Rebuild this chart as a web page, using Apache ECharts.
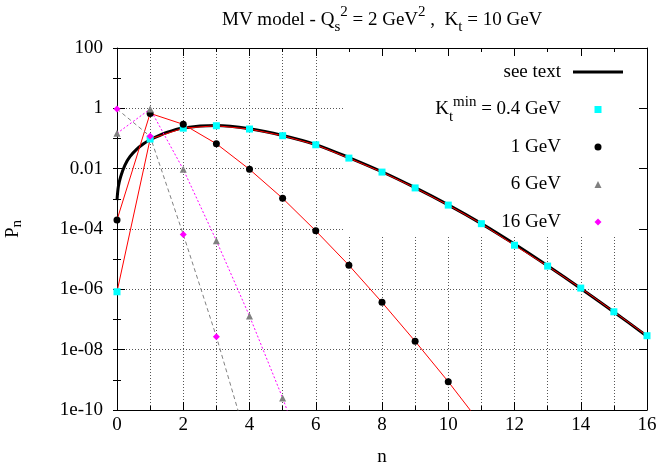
<!DOCTYPE html>
<html>
<head>
<meta charset="utf-8">
<script src="https://cdn.jsdelivr.net/npm/echarts@6/dist/echarts.min.js"></script>
<style>
  html, body { margin: 0; padding: 0; background: #fff; }
  #chart { width: 658px; height: 468px; }
</style>
</head>
<body>
<div id="chart"></div>
<script>
// Multiplicity distribution P_n in the MV model
const nValues = [0, 1, 2, 3, 4, 5, 6, 7, 8, 9, 10, 11, 12, 13, 14, 15, 16];

// Kt_min = 0.4 GeV
const pKt04 = [8.3e-7, 0.096, 0.22, 0.265, 0.206, 0.124, 0.062, 0.0224, 0.0077,
               0.0023, 6.2e-4, 1.5e-4, 2.9e-5, 5.9e-6, 1.1e-6, 1.8e-7, 2.9e-8];
// Kt_min = 1 GeV
const pKt1 = [2.0e-4, 0.68, 0.295, 0.067, 0.0095, 1.04e-3, 8.7e-5, 6.3e-6, 3.7e-7,
              1.9e-8, 8.7e-10, 3.3e-11];
// Kt_min = 6 GeV
const pKt6 = [0.148, 0.95, 0.0095, 4.1e-5, 1.3e-7, 2.5e-10, 2.5e-13];
// Kt_min = 16 GeV
const pKt16 = [0.95, 0.118, 6.6e-5, 2.7e-8, 4.9e-12];

// continuous curve ("see text")
const curveN = [0, 0.04, 0.11, 0.24, 0.39, 0.59, 0.79, 1, 1.5, 2, 3, 4, 5, 6, 7, 8,
                9, 10, 11, 12, 13, 14, 15, 16];
const curveP = [9.1e-4, 2.5e-3, 5.4e-3, 0.0132, 0.025, 0.0437, 0.066, 0.091, 0.158,
                0.224, 0.269, 0.209, 0.126, 0.063, 0.0234, 0.0079, 0.00234, 6.3e-4,
                1.51e-4, 3.16e-5, 6.0e-6, 1.07e-6, 1.78e-7, 2.8e-8];

const xTickLabels = ['0', '2', '4', '6', '8', '10', '12', '14', '16'];
const yTickLabels = { '2': '100', '0': '1', '-2': '0.01', '-4': '1e-04',
                      '-6': '1e-06', '-8': '1e-08', '-10': '1e-10' };

const NAME_04 = 'Kt_min = 0.4 GeV';
const FONT = 'Liberation Serif';
const FS = 19;

// rich styles with sub/superscripts (line box 30px)
const richText = {
  b:   { fontFamily: FONT, fontSize: FS, lineHeight: 30, color: '#000' },
  e:   { fontFamily: FONT, fontSize: FS, lineHeight: 30, color: '#000', padding: [0, 7, 0, 0] },
  sub: { fontFamily: FONT, fontSize: 15, lineHeight: 21, verticalAlign: 'bottom', color: '#000' },
  sup: { fontFamily: FONT, fontSize: 15, lineHeight: 9, verticalAlign: 'top', color: '#000' }
};
// axis name style (line box 24px)
const richName = {
  b:   { fontFamily: FONT, fontSize: FS, lineHeight: 24, color: '#000' },
  sub: { fontFamily: FONT, fontSize: 15, lineHeight: 16, verticalAlign: 'bottom', color: '#000' }
};

// every legend row uses the same token set so all rows get the same height
const legendText = {
  'see text': '{sub| }{sup| }{e|see text}',
  [NAME_04]: '{b|K}{sub|t}{sup|min}{e| = 0.4 GeV}',
  '1 GeV': '{sub| }{sup| }{e|1 GeV}',
  '6 GeV': '{sub| }{sup| }{e|6 GeV}',
  '16 GeV': '{sub| }{sup| }{e|16 GeV}'
};

const pairs = (xs, ys) => ys.map((y, i) => [xs[i], y]);

const X0 = 117, X1 = 647, Y0 = 48, Y1 = 410;
const W = 658, H = 468;

const gridLine = { show: true, lineStyle: { color: '#555', width: 1, type: [1, 2] } };

const yFormatter = v => {
  const e = String(Math.round(Math.log10(v)));
  return yTickLabels[e] !== undefined ? yTickLabels[e] : '';
};

function yAxisBase(extra) {
  return Object.assign({
    type: 'log', logBase: 10, min: 1e-10, max: 100,
    axisLine: { show: false },
    axisLabel: { show: false },
    splitLine: { show: false },
    axisTick: { show: true, inside: true, length: 4, lineStyle: { color: '#000' } }
  }, extra);
}

const option = {
  backgroundColor: '#fff',
  animation: false,
  title: {
    text: '{b|MV model - Q}{sub|s}{sup|2}{b| = 2 GeV}{sup|2}{b| ,  K}{sub|t}{b| = 10 GeV}',
    left: 222, top: 5, padding: 0,
    textStyle: { rich: richText, fontFamily: FONT, fontSize: FS, fontWeight: 'normal', color: '#000' }
  },
  grid: {
    left: X0, right: W - X1, top: Y0, bottom: H - Y1,
    containLabel: false, outerBoundsMode: 'none'
  },
  legend: {
    orient: 'vertical', align: 'right',
    right: W - 623, top: 57, padding: 0,
    itemWidth: 50, itemHeight: 7, itemGap: 7.5,
    selectedMode: false,
    data: [
      { name: 'see text', icon: 'path://M0 0H50V3H0Z' },
      { name: NAME_04, icon: 'path://M0 0H10V10H0Z' },
      { name: '1 GeV', icon: 'circle' },
      { name: '6 GeV', icon: 'path://M5 0L10 10H0Z' },
      { name: '16 GeV', icon: 'path://M5 0L10 5L5 10L0 5Z' }
    ],
    formatter: name => legendText[name],
    textStyle: { rich: richText, fontFamily: FONT, fontSize: FS, color: '#000' }
  },
  graphic: [{
    type: 'rect', z: 1, silent: true,
    shape: { x: 345, y: Y0 + 1, width: X1 - 1 - 345, height: 237 - Y0 - 1 },
    style: { fill: '#fff' }
  }],
  xAxis: [{
    type: 'value', min: 0, max: 16, interval: 2, position: 'bottom',
    axisLine: { show: true, onZero: false, lineStyle: { color: '#000', width: 1 } },
    axisTick: { show: true, inside: true, length: 8, lineStyle: { color: '#000' } },
    minorTick: { show: true, splitNumber: 2, length: 4, lineStyle: { color: '#000' } },
    axisLabel: {
      fontFamily: FONT, fontSize: FS, color: '#000', margin: 6,
      formatter: v => xTickLabels[Math.round(v / 2)]
    },
    splitLine: gridLine,
    minorSplitLine: gridLine,
    name: 'n', nameLocation: 'middle', nameGap: 38,
    nameTextStyle: { fontFamily: FONT, fontSize: FS, color: '#000' }
  }, {
    type: 'value', min: 0, max: 16, interval: 2, position: 'top', z: 3,
    axisLine: { show: true, onZero: false, lineStyle: { color: '#000', width: 1 } },
    axisTick: { show: true, inside: true, length: 8, lineStyle: { color: '#000' } },
    minorTick: { show: true, splitNumber: 2, length: 4, lineStyle: { color: '#000' } },
    axisLabel: { show: false },
    splitLine: { show: false }
  }],
  yAxis: [
    yAxisBase({
      position: 'left', interval: 2,
      axisLine: { show: true, onZero: false, lineStyle: { color: '#000', width: 1 } },
      axisTick: { show: true, inside: true, length: 8, lineStyle: { color: '#000' } },
      axisLabel: { show: true, fontFamily: FONT, fontSize: FS, color: '#000', margin: 14, formatter: yFormatter },
      splitLine: gridLine,
      name: '{b|P}{sub|n}', nameLocation: 'middle', nameGap: 92,
      nameTextStyle: { rich: richName, fontFamily: FONT, fontSize: FS, color: '#000' }
    }),
    yAxisBase({ position: 'left', interval: 1 }),
    yAxisBase({
      position: 'right', interval: 2, z: 3,
      axisLine: { show: true, onZero: false, lineStyle: { color: '#000', width: 1 } },
      axisTick: { show: true, inside: true, length: 8, lineStyle: { color: '#000' } }
    }),
    yAxisBase({ position: 'right', interval: 1, z: 3 })
  ],
  series: [
    {
      name: 'see text', type: 'line', z: 2,
      data: pairs(curveN, curveP),
      symbol: 'none', showSymbol: false,
      smooth: 0.3,
      lineStyle: { color: '#000', width: 3 },
      itemStyle: { color: '#000' }
    },
    {
      name: NAME_04, type: 'line', z: 3,
      data: pairs(nValues, pKt04),
      symbol: 'rect', symbolSize: 7,
      lineStyle: { color: '#ff0000', width: 1 },
      itemStyle: { color: '#00ffff', borderWidth: 0 }
    },
    {
      name: '1 GeV', type: 'line', z: 3,
      data: pairs(nValues, pKt1),
      symbol: 'circle', symbolSize: 7,
      lineStyle: { color: '#ff0000', width: 1 },
      itemStyle: { color: '#000', borderWidth: 0 }
    },
    {
      name: '6 GeV', type: 'line', z: 3,
      data: pairs(nValues, pKt6),
      symbol: 'triangle', symbolSize: 7,
      lineStyle: { color: '#ff00ff', width: 1, type: [2, 2] },
      itemStyle: { color: '#808080', borderWidth: 0 }
    },
    {
      name: '16 GeV', type: 'line', z: 3,
      data: pairs(nValues, pKt16),
      symbol: 'diamond', symbolSize: 7,
      lineStyle: { color: '#808080', width: 1, type: [4, 3] },
      itemStyle: { color: '#ff00ff', borderWidth: 0 }
    }
  ]
};

echarts.init(document.getElementById('chart'), null, { renderer: 'canvas' }).setOption(option);
</script>
</body>
</html>
